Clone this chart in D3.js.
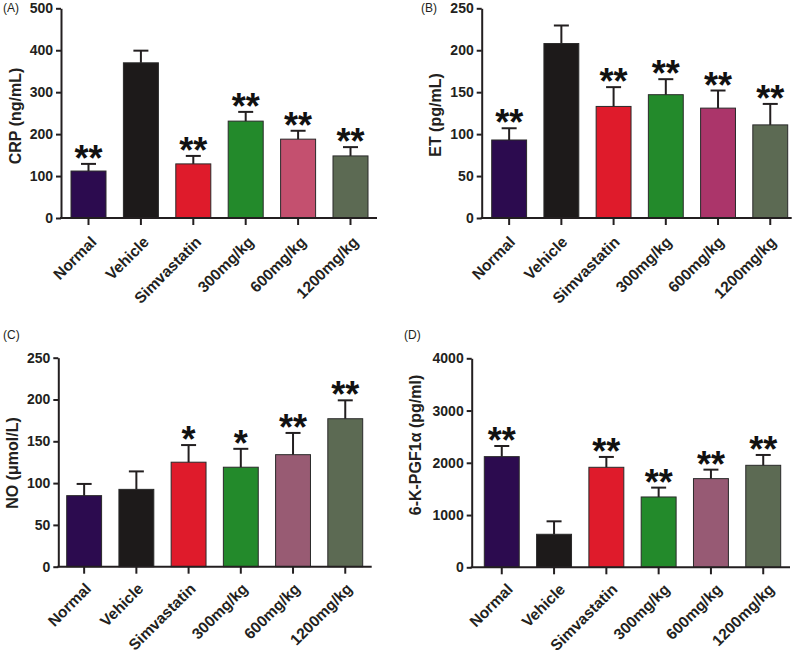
<!DOCTYPE html>
<html><head><meta charset="utf-8">
<script src="https://cdn.jsdelivr.net/npm/d3@7/dist/d3.min.js"></script>
<style>body{margin:0;background:#fff}svg{display:block}</style>
</head><body><svg id="c" width="800" height="654"></svg>
<script>
const categories = ["Normal","Vehicle","Simvastatin","300mg/kg","600mg/kg","1200mg/kg"];

const crpMean = [112, 370, 129, 231, 188, 148];
const crpErr  = [17, 29, 19, 22, 20, 21];
const crpSig  = ["**","","**","**","**","**"];
const crpTicks = [0,100,200,300,400,500];

const etMean = [93, 208, 133, 147, 131, 111];
const etErr  = [14, 21.5, 23, 18.5, 21, 25];
const etSig  = ["**","","**","**","**","**"];
const etTicks = [0,50,100,150,200,250];

const noMean = [85, 92.5, 125, 119, 134, 177];
const noErr  = [14, 21.5, 20.5, 22, 26, 22];
const noSig  = ["","","*","*","**","**"];
const noTicks = [0,50,100,150,200,250];

const pgfMean = [2118, 632, 1914, 1346, 1697, 1952];
const pgfErr  = [204, 248, 198, 179, 172, 198];
const pgfSig  = ["**","","**","**","**","**"];
const pgfTicks = [0,1000,2000,3000,4000];

const baseColors = ["#2c0b4f","#1d1a1a","#df1b2b","#238a2b",null,"#5c6a53"];

const panels = [
  {tag:"(A)", tagX:3, tagY:12, title:"CRP (ng/mL)", mean:crpMean, err:crpErr, sig:crpSig, ticks:crpTicks,
   ax:61, axEnd:377, yTop:8.3, y0:218, r:[71,368], pink:"#c4506f", tX:15, tY:116, lx:9, ly:25},
  {tag:"(B)", tagX:421, tagY:12, title:"ET (pg/mL)", mean:etMean, err:etErr, sig:etSig, ticks:etTicks,
   ax:481.7, axEnd:791.7, yTop:8.3, y0:218, r:[491.7,787.7], pink:"#ab356a", tX:435, tY:115, lx:7, ly:25},
  {tag:"(C)", tagX:3, tagY:339, title:"NO (μmol/L)", mean:noMean, err:noErr, sig:noSig, ticks:noTicks,
   ax:58.3, axEnd:371.7, yTop:357.7, y0:566.7, r:[66.7,362.7], pink:"#985b73", tX:12, tY:463, lx:8, ly:23},
  {tag:"(D)", tagX:404, tagY:339, title:"6-K-PGF1α  (pg/ml)", mean:pgfMean, err:pgfErr, sig:pgfSig, ticks:pgfTicks,
   ax:471.7, axEnd:790, yTop:358.3, y0:567.3, r:[484.3,780.7], pink:"#975a74", tX:415, tY:445, lx:12, ly:23}
];

const svg = d3.select("#c");
const F = "'Liberation Sans', Arial, sans-serif";
const ink = "#231f20";

panels.forEach(p => {
  const g = svg.append("g");
  const colors = baseColors.map(c => c || p.pink);
  const x = d3.scaleBand().domain(categories).range(p.r).paddingInner(0.332).paddingOuter(0);
  const y = d3.scaleLinear().domain([0, p.ticks[p.ticks.length-1]]).range([p.y0, p.yTop]);

  // bars
  g.selectAll("rect.bar").data(categories).join("rect")
    .attr("x", d => x(d)).attr("width", x.bandwidth())
    .attr("y", (d,i) => y(p.mean[i])).attr("height", (d,i) => p.y0 - y(p.mean[i]))
    .attr("fill", (d,i) => colors[i]).attr("stroke", "#2a2a2a").attr("stroke-width", 1);

  // error bars
  const eb = g.selectAll("g.eb").data(categories).join("g");
  eb.append("line")
    .attr("x1", d => x(d) + x.bandwidth()/2).attr("x2", d => x(d) + x.bandwidth()/2)
    .attr("y1", (d,i) => y(p.mean[i])).attr("y2", (d,i) => y(p.mean[i] + p.err[i]))
    .attr("stroke", ink).attr("stroke-width", 2);
  eb.append("line")
    .attr("x1", d => x(d) + x.bandwidth()/2 - 7.5).attr("x2", d => x(d) + x.bandwidth()/2 + 7.5)
    .attr("y1", (d,i) => y(p.mean[i] + p.err[i])).attr("y2", (d,i) => y(p.mean[i] + p.err[i]))
    .attr("stroke", ink).attr("stroke-width", 2);

  // significance
  g.selectAll("text.sig").data(categories).join("text")
    .attr("x", d => x(d) + x.bandwidth()/2)
    .attr("y", (d,i) => y(p.mean[i] + p.err[i]) + 7)
    .attr("text-anchor", "middle").attr("font-family", F).attr("font-weight", "bold")
    .attr("font-size", 36).attr("fill", "#111")
    .text((d,i) => p.sig[i]);

  // y axis
  const yAxis = d3.axisLeft(y).tickValues(p.ticks).tickFormat(d3.format("d"))
    .tickSize(5).tickPadding(3).tickSizeOuter(0);
  const ya = g.append("g").attr("transform", `translate(${p.ax},0)`).call(yAxis);
  ya.select(".domain").attr("stroke", ink).attr("stroke-width", 2);
  ya.selectAll(".tick line").attr("stroke", ink).attr("stroke-width", 2);
  ya.selectAll(".tick text").attr("font-family", F).attr("font-weight", "bold").attr("font-size", 14).attr("fill", ink);

  // x axis
  g.append("line").attr("x1", p.ax - 1).attr("x2", p.axEnd).attr("y1", p.y0).attr("y2", p.y0)
    .attr("stroke", ink).attr("stroke-width", 2);
  g.selectAll("line.xt").data(categories).join("line")
    .attr("x1", d => x(d) + x.bandwidth()/2).attr("x2", d => x(d) + x.bandwidth()/2)
    .attr("y1", p.y0).attr("y2", p.y0 + 7).attr("stroke", ink).attr("stroke-width", 2);
  g.selectAll("text.xl").data(categories).join("text")
    .attr("transform", d => `translate(${x(d) + x.bandwidth()/2 + p.lx},${p.y0 + p.ly}) rotate(-45)`)
    .attr("text-anchor", "end").attr("font-family", F).attr("font-weight", "bold")
    .attr("font-size", 15.5).attr("fill", ink).text(d => d);

  // y title
  g.append("text").attr("transform", `translate(${p.tX + 6},${p.tY}) rotate(-90)`)
    .attr("text-anchor", "middle").attr("font-family", F).attr("font-weight", "bold")
    .attr("font-size", 16).attr("fill", ink).text(p.title);

  // panel tag
  g.append("text").attr("x", p.tagX).attr("y", p.tagY).attr("font-family", F)
    .attr("font-size", 12).attr("fill", ink).text(p.tag);
});
</script></body></html>
